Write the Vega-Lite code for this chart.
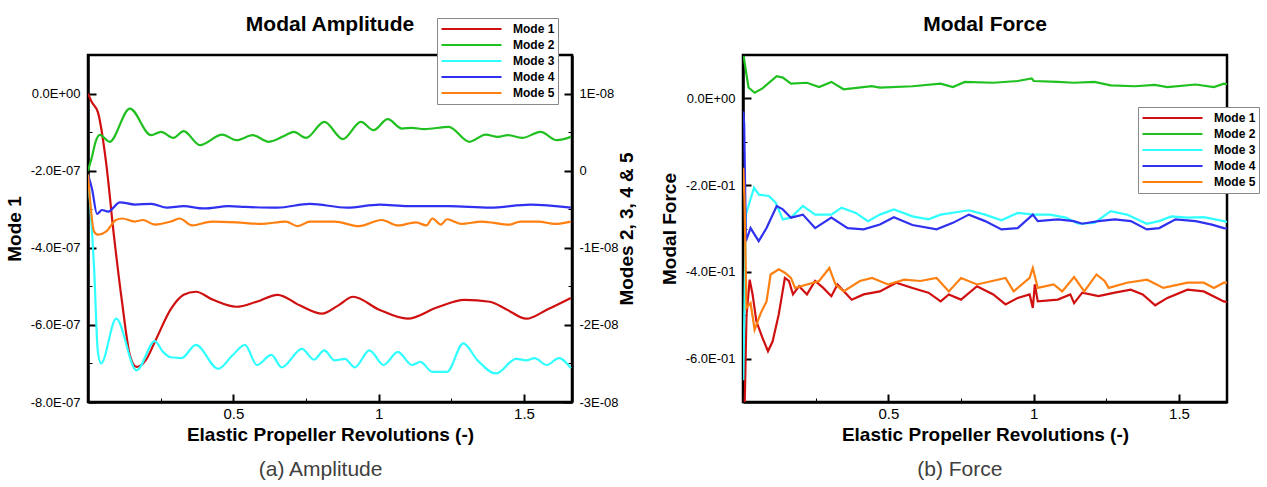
{
  "$schema": "https://vega.github.io/schema/vega-lite/v6.json",
  "background": "white",
  "padding": {"left": 3, "top": 12, "right": 5, "bottom": 5},
  "config": {
    "font": "Liberation Sans",
    "view": {"stroke": "black", "strokeWidth": 2.5},
    "axis": {"grid": false, "domainColor": "black", "domainWidth": 2.5, "tickColor": "black", "labelColor": "black", "labelFont": "Liberation Sans", "labelFontSize": 13, "titleFont": "Liberation Sans", "titleFontWeight": "bold", "titleFontSize": 19, "titleColor": "black", "tickSize": -8, "labelOverlap": false, "labelBound": false, "labelFlush": false},
    "legend": {"orient": "none", "title": null, "symbolType": "stroke", "symbolSize": 3600, "symbolStrokeWidth": 2, "labelFont": "Liberation Sans", "labelFontWeight": "bold", "labelFontSize": 12, "labelColor": "black", "clipHeight": 16, "rowPadding": 0, "padding": 3, "strokeColor": "#888888", "fillColor": "white", "labelOffset": 10},
    "title": {"font": "Liberation Sans", "color": "black"},
    "line": {"strokeWidth": 2.2}
  },
  "datasets": {
    "amp": [
      {"rev":0,"value":0,"mode":"Mode 1"},{"rev":0.013,"value":-0.22e-7,"mode":"Mode 1"},{"rev":0.034,"value":-0.48e-7,"mode":"Mode 1"},{"rev":0.062,"value":-1.77e-7,"mode":"Mode 1"},{"rev":0.089,"value":-3.67e-7,"mode":"Mode 1"},{"rev":0.117,"value":-5.40e-7,"mode":"Mode 1"},{"rev":0.144,"value":-6.78e-7,"mode":"Mode 1"},{"rev":0.167,"value":-7.09e-7,"mode":"Mode 1"},{"rev":0.20,"value":-6.9e-7,"mode":"Mode 1"},{"rev":0.23,"value":-6.44e-7,"mode":"Mode 1"},{"rev":0.286,"value":-5.58e-7,"mode":"Mode 1"},{"rev":0.329,"value":-5.22e-7,"mode":"Mode 1"},{"rev":0.371,"value":-5.14e-7,"mode":"Mode 1"},{"rev":0.43,"value":-5.35e-7,"mode":"Mode 1"},{"rev":0.511,"value":-5.53e-7,"mode":"Mode 1"},{"rev":0.58,"value":-5.4e-7,"mode":"Mode 1"},{"rev":0.652,"value":-5.22e-7,"mode":"Mode 1"},{"rev":0.73,"value":-5.5e-7,"mode":"Mode 1"},{"rev":0.805,"value":-5.71e-7,"mode":"Mode 1"},{"rev":0.86,"value":-5.5e-7,"mode":"Mode 1"},{"rev":0.912,"value":-5.27e-7,"mode":"Mode 1"},{"rev":1.0,"value":-5.6e-7,"mode":"Mode 1"},{"rev":1.10,"value":-5.84e-7,"mode":"Mode 1"},{"rev":1.2,"value":-5.55e-7,"mode":"Mode 1"},{"rev":1.296,"value":-5.35e-7,"mode":"Mode 1"},{"rev":1.382,"value":-5.40e-7,"mode":"Mode 1"},{"rev":1.44,"value":-5.6e-7,"mode":"Mode 1"},{"rev":1.508,"value":-5.84e-7,"mode":"Mode 1"},{"rev":1.58,"value":-5.6e-7,"mode":"Mode 1"},{"rev":1.661,"value":-5.30e-7,"mode":"Mode 1"},

      {"rev":0,"value":0,"mode":"Mode 2"},{"rev":0.015,"value":2.0e-9,"mode":"Mode 2"},{"rev":0.025,"value":3.6e-9,"mode":"Mode 2"},{"rev":0.041,"value":4.64e-9,"mode":"Mode 2"},{"rev":0.074,"value":3.74e-9,"mode":"Mode 2"},{"rev":0.144,"value":8.05e-9,"mode":"Mode 2"},{"rev":0.217,"value":4.60e-9,"mode":"Mode 2"},{"rev":0.251,"value":5.03e-9,"mode":"Mode 2"},{"rev":0.294,"value":4.25e-9,"mode":"Mode 2"},{"rev":0.329,"value":5.12e-9,"mode":"Mode 2"},{"rev":0.385,"value":3.31e-9,"mode":"Mode 2"},{"rev":0.462,"value":4.68e-9,"mode":"Mode 2"},{"rev":0.511,"value":3.96e-9,"mode":"Mode 2"},{"rev":0.567,"value":4.60e-9,"mode":"Mode 2"},{"rev":0.622,"value":3.74e-9,"mode":"Mode 2"},{"rev":0.680,"value":4.60e-9,"mode":"Mode 2"},{"rev":0.708,"value":5.03e-9,"mode":"Mode 2"},{"rev":0.750,"value":4.25e-9,"mode":"Mode 2"},{"rev":0.813,"value":6.33e-9,"mode":"Mode 2"},{"rev":0.877,"value":4.09e-9,"mode":"Mode 2"},{"rev":0.939,"value":6.33e-9,"mode":"Mode 2"},{"rev":0.982,"value":5.25e-9,"mode":"Mode 2"},{"rev":1.031,"value":6.68e-9,"mode":"Mode 2"},{"rev":1.080,"value":5.46e-9,"mode":"Mode 2"},{"rev":1.114,"value":5.55e-9,"mode":"Mode 2"},{"rev":1.157,"value":5.38e-9,"mode":"Mode 2"},{"rev":1.241,"value":5.68e-9,"mode":"Mode 2"},{"rev":1.312,"value":3.74e-9,"mode":"Mode 2"},{"rev":1.368,"value":4.68e-9,"mode":"Mode 2"},{"rev":1.410,"value":4.38e-9,"mode":"Mode 2"},{"rev":1.444,"value":4.60e-9,"mode":"Mode 2"},{"rev":1.494,"value":4.25e-9,"mode":"Mode 2"},{"rev":1.557,"value":5.03e-9,"mode":"Mode 2"},{"rev":1.613,"value":3.96e-9,"mode":"Mode 2"},{"rev":1.661,"value":4.38e-9,"mode":"Mode 2"},

      {"rev":0,"value":-0.05e-8,"mode":"Mode 3"},{"rev":0.021,"value":-1.27e-8,"mode":"Mode 3"},{"rev":0.034,"value":-2.35e-8,"mode":"Mode 3"},{"rev":0.045,"value":-2.50e-8,"mode":"Mode 3"},{"rev":0.097,"value":-1.92e-8,"mode":"Mode 3"},{"rev":0.167,"value":-2.59e-8,"mode":"Mode 3"},{"rev":0.230,"value":-2.21e-8,"mode":"Mode 3"},{"rev":0.258,"value":-2.35e-8,"mode":"Mode 3"},{"rev":0.285,"value":-2.42e-8,"mode":"Mode 3"},{"rev":0.322,"value":-2.43e-8,"mode":"Mode 3"},{"rev":0.371,"value":-2.26e-8,"mode":"Mode 3"},{"rev":0.448,"value":-2.57e-8,"mode":"Mode 3"},{"rev":0.498,"value":-2.39e-8,"mode":"Mode 3"},{"rev":0.540,"value":-2.26e-8,"mode":"Mode 3"},{"rev":0.581,"value":-2.52e-8,"mode":"Mode 3"},{"rev":0.631,"value":-2.39e-8,"mode":"Mode 3"},{"rev":0.666,"value":-2.55e-8,"mode":"Mode 3"},{"rev":0.736,"value":-2.31e-8,"mode":"Mode 3"},{"rev":0.777,"value":-2.45e-8,"mode":"Mode 3"},{"rev":0.813,"value":-2.33e-8,"mode":"Mode 3"},{"rev":0.848,"value":-2.46e-8,"mode":"Mode 3"},{"rev":0.884,"value":-2.44e-8,"mode":"Mode 3"},{"rev":0.918,"value":-2.55e-8,"mode":"Mode 3"},{"rev":0.968,"value":-2.33e-8,"mode":"Mode 3"},{"rev":1.017,"value":-2.52e-8,"mode":"Mode 3"},{"rev":1.066,"value":-2.35e-8,"mode":"Mode 3"},{"rev":1.114,"value":-2.52e-8,"mode":"Mode 3"},{"rev":1.143,"value":-2.48e-8,"mode":"Mode 3"},{"rev":1.185,"value":-2.61e-8,"mode":"Mode 3"},{"rev":1.235,"value":-2.61e-8,"mode":"Mode 3"},{"rev":1.291,"value":-2.24e-8,"mode":"Mode 3"},{"rev":1.340,"value":-2.46e-8,"mode":"Mode 3"},{"rev":1.403,"value":-2.63e-8,"mode":"Mode 3"},{"rev":1.473,"value":-2.44e-8,"mode":"Mode 3"},{"rev":1.508,"value":-2.46e-8,"mode":"Mode 3"},{"rev":1.536,"value":-2.43e-8,"mode":"Mode 3"},{"rev":1.578,"value":-2.52e-8,"mode":"Mode 3"},{"rev":1.620,"value":-2.43e-8,"mode":"Mode 3"},{"rev":1.661,"value":-2.56e-8,"mode":"Mode 3"},

      {"rev":0,"value":-0.05e-8,"mode":"Mode 4"},{"rev":0.014,"value":-0.24e-8,"mode":"Mode 4"},{"rev":0.031,"value":-0.56e-8,"mode":"Mode 4"},{"rev":0.048,"value":-0.51e-8,"mode":"Mode 4"},{"rev":0.069,"value":-0.53e-8,"mode":"Mode 4"},{"rev":0.110,"value":-0.41e-8,"mode":"Mode 4"},{"rev":0.162,"value":-0.44e-8,"mode":"Mode 4"},{"rev":0.217,"value":-0.43e-8,"mode":"Mode 4"},{"rev":0.272,"value":-0.48e-8,"mode":"Mode 4"},{"rev":0.329,"value":-0.46e-8,"mode":"Mode 4"},{"rev":0.399,"value":-0.49e-8,"mode":"Mode 4"},{"rev":0.484,"value":-0.46e-8,"mode":"Mode 4"},{"rev":0.540,"value":-0.47e-8,"mode":"Mode 4"},{"rev":0.652,"value":-0.48e-8,"mode":"Mode 4"},{"rev":0.763,"value":-0.43e-8,"mode":"Mode 4"},{"rev":0.891,"value":-0.48e-8,"mode":"Mode 4"},{"rev":1.003,"value":-0.44e-8,"mode":"Mode 4"},{"rev":1.100,"value":-0.46e-8,"mode":"Mode 4"},{"rev":1.241,"value":-0.46e-8,"mode":"Mode 4"},{"rev":1.382,"value":-0.48e-8,"mode":"Mode 4"},{"rev":1.522,"value":-0.44e-8,"mode":"Mode 4"},{"rev":1.661,"value":-0.48e-8,"mode":"Mode 4"},

      {"rev":0,"value":-0.05e-8,"mode":"Mode 5"},{"rev":0.021,"value":-0.79e-8,"mode":"Mode 5"},{"rev":0.034,"value":-0.83e-8,"mode":"Mode 5"},{"rev":0.062,"value":-0.79e-8,"mode":"Mode 5"},{"rev":0.096,"value":-0.64e-8,"mode":"Mode 5"},{"rev":0.118,"value":-0.62e-8,"mode":"Mode 5"},{"rev":0.161,"value":-0.66e-8,"mode":"Mode 5"},{"rev":0.189,"value":-0.64e-8,"mode":"Mode 5"},{"rev":0.230,"value":-0.70e-8,"mode":"Mode 5"},{"rev":0.285,"value":-0.66e-8,"mode":"Mode 5"},{"rev":0.315,"value":-0.62e-8,"mode":"Mode 5"},{"rev":0.358,"value":-0.71e-8,"mode":"Mode 5"},{"rev":0.426,"value":-0.66e-8,"mode":"Mode 5"},{"rev":0.511,"value":-0.67e-8,"mode":"Mode 5"},{"rev":0.595,"value":-0.69e-8,"mode":"Mode 5"},{"rev":0.680,"value":-0.66e-8,"mode":"Mode 5"},{"rev":0.722,"value":-0.72e-8,"mode":"Mode 5"},{"rev":0.763,"value":-0.66e-8,"mode":"Mode 5"},{"rev":0.848,"value":-0.66e-8,"mode":"Mode 5"},{"rev":0.932,"value":-0.72e-8,"mode":"Mode 5"},{"rev":1.010,"value":-0.64e-8,"mode":"Mode 5"},{"rev":1.066,"value":-0.71e-8,"mode":"Mode 5"},{"rev":1.128,"value":-0.67e-8,"mode":"Mode 5"},{"rev":1.164,"value":-0.71e-8,"mode":"Mode 5"},{"rev":1.185,"value":-0.62e-8,"mode":"Mode 5"},{"rev":1.214,"value":-0.70e-8,"mode":"Mode 5"},{"rev":1.235,"value":-0.63e-8,"mode":"Mode 5"},{"rev":1.283,"value":-0.69e-8,"mode":"Mode 5"},{"rev":1.354,"value":-0.66e-8,"mode":"Mode 5"},{"rev":1.451,"value":-0.70e-8,"mode":"Mode 5"},{"rev":1.487,"value":-0.66e-8,"mode":"Mode 5"},{"rev":1.550,"value":-0.66e-8,"mode":"Mode 5"},{"rev":1.606,"value":-0.69e-8,"mode":"Mode 5"},{"rev":1.661,"value":-0.66e-8,"mode":"Mode 5"}
    ],
    "force": [
      {"rev":0.001,"value":-0.76,"mode":"Mode 1"},{"rev":0.006,"value":-0.70,"mode":"Mode 1"},{"rev":0.012,"value":-0.50,"mode":"Mode 1"},{"rev":0.023,"value":-0.418,"mode":"Mode 1"},{"rev":0.033,"value":-0.452,"mode":"Mode 1"},{"rev":0.046,"value":-0.514,"mode":"Mode 1"},{"rev":0.067,"value":-0.552,"mode":"Mode 1"},{"rev":0.086,"value":-0.583,"mode":"Mode 1"},{"rev":0.102,"value":-0.560,"mode":"Mode 1"},{"rev":0.123,"value":-0.498,"mode":"Mode 1"},{"rev":0.144,"value":-0.414,"mode":"Mode 1"},{"rev":0.158,"value":-0.421,"mode":"Mode 1"},{"rev":0.172,"value":-0.452,"mode":"Mode 1"},{"rev":0.193,"value":-0.433,"mode":"Mode 1"},{"rev":0.220,"value":-0.452,"mode":"Mode 1"},{"rev":0.248,"value":-0.421,"mode":"Mode 1"},{"rev":0.276,"value":-0.437,"mode":"Mode 1"},{"rev":0.304,"value":-0.456,"mode":"Mode 1"},{"rev":0.325,"value":-0.429,"mode":"Mode 1"},{"rev":0.374,"value":-0.464,"mode":"Mode 1"},{"rev":0.415,"value":-0.452,"mode":"Mode 1"},{"rev":0.471,"value":-0.445,"mode":"Mode 1"},{"rev":0.527,"value":-0.425,"mode":"Mode 1"},{"rev":0.583,"value":-0.437,"mode":"Mode 1"},{"rev":0.638,"value":-0.448,"mode":"Mode 1"},{"rev":0.680,"value":-0.468,"mode":"Mode 1"},{"rev":0.708,"value":-0.452,"mode":"Mode 1"},{"rev":0.750,"value":-0.464,"mode":"Mode 1"},{"rev":0.805,"value":-0.433,"mode":"Mode 1"},{"rev":0.861,"value":-0.452,"mode":"Mode 1"},{"rev":0.903,"value":-0.475,"mode":"Mode 1"},{"rev":0.945,"value":-0.460,"mode":"Mode 1"},{"rev":0.986,"value":-0.452,"mode":"Mode 1"},{"rev":0.997,"value":-0.483,"mode":"Mode 1"},{"rev":1.004,"value":-0.429,"mode":"Mode 1"},{"rev":1.014,"value":-0.468,"mode":"Mode 1"},{"rev":1.083,"value":-0.464,"mode":"Mode 1"},{"rev":1.126,"value":-0.452,"mode":"Mode 1"},{"rev":1.139,"value":-0.472,"mode":"Mode 1"},{"rev":1.167,"value":-0.448,"mode":"Mode 1"},{"rev":1.223,"value":-0.456,"mode":"Mode 1"},{"rev":1.279,"value":-0.448,"mode":"Mode 1"},{"rev":1.334,"value":-0.441,"mode":"Mode 1"},{"rev":1.375,"value":-0.452,"mode":"Mode 1"},{"rev":1.418,"value":-0.477,"mode":"Mode 1"},{"rev":1.460,"value":-0.460,"mode":"Mode 1"},{"rev":1.529,"value":-0.441,"mode":"Mode 1"},{"rev":1.585,"value":-0.445,"mode":"Mode 1"},{"rev":1.654,"value":-0.468,"mode":"Mode 1"},{"rev":1.665,"value":-0.470,"mode":"Mode 1"},

      {"rev":0.002,"value":0.098,"mode":"Mode 2"},{"rev":0.019,"value":0.025,"mode":"Mode 2"},{"rev":0.040,"value":0.013,"mode":"Mode 2"},{"rev":0.067,"value":0.023,"mode":"Mode 2"},{"rev":0.116,"value":0.051,"mode":"Mode 2"},{"rev":0.137,"value":0.048,"mode":"Mode 2"},{"rev":0.165,"value":0.034,"mode":"Mode 2"},{"rev":0.220,"value":0.036,"mode":"Mode 2"},{"rev":0.262,"value":0.026,"mode":"Mode 2"},{"rev":0.304,"value":0.038,"mode":"Mode 2"},{"rev":0.346,"value":0.021,"mode":"Mode 2"},{"rev":0.443,"value":0.028,"mode":"Mode 2"},{"rev":0.471,"value":0.025,"mode":"Mode 2"},{"rev":0.583,"value":0.028,"mode":"Mode 2"},{"rev":0.680,"value":0.034,"mode":"Mode 2"},{"rev":0.722,"value":0.026,"mode":"Mode 2"},{"rev":0.763,"value":0.038,"mode":"Mode 2"},{"rev":0.861,"value":0.036,"mode":"Mode 2"},{"rev":0.945,"value":0.040,"mode":"Mode 2"},{"rev":0.993,"value":0.046,"mode":"Mode 2"},{"rev":1.000,"value":0.040,"mode":"Mode 2"},{"rev":1.083,"value":0.038,"mode":"Mode 2"},{"rev":1.138,"value":0.036,"mode":"Mode 2"},{"rev":1.209,"value":0.038,"mode":"Mode 2"},{"rev":1.265,"value":0.030,"mode":"Mode 2"},{"rev":1.348,"value":0.028,"mode":"Mode 2"},{"rev":1.417,"value":0.031,"mode":"Mode 2"},{"rev":1.460,"value":0.026,"mode":"Mode 2"},{"rev":1.557,"value":0.032,"mode":"Mode 2"},{"rev":1.620,"value":0.026,"mode":"Mode 2"},{"rev":1.654,"value":0.034,"mode":"Mode 2"},{"rev":1.665,"value":0.033,"mode":"Mode 2"},

      {"rev":0.001,"value":-0.65,"mode":"Mode 3"},{"rev":0.010,"value":-0.267,"mode":"Mode 3"},{"rev":0.038,"value":-0.206,"mode":"Mode 3"},{"rev":0.055,"value":-0.222,"mode":"Mode 3"},{"rev":0.089,"value":-0.225,"mode":"Mode 3"},{"rev":0.112,"value":-0.240,"mode":"Mode 3"},{"rev":0.137,"value":-0.279,"mode":"Mode 3"},{"rev":0.165,"value":-0.275,"mode":"Mode 3"},{"rev":0.206,"value":-0.248,"mode":"Mode 3"},{"rev":0.248,"value":-0.268,"mode":"Mode 3"},{"rev":0.304,"value":-0.268,"mode":"Mode 3"},{"rev":0.339,"value":-0.252,"mode":"Mode 3"},{"rev":0.388,"value":-0.264,"mode":"Mode 3"},{"rev":0.430,"value":-0.283,"mode":"Mode 3"},{"rev":0.471,"value":-0.268,"mode":"Mode 3"},{"rev":0.519,"value":-0.256,"mode":"Mode 3"},{"rev":0.583,"value":-0.272,"mode":"Mode 3"},{"rev":0.638,"value":-0.279,"mode":"Mode 3"},{"rev":0.680,"value":-0.268,"mode":"Mode 3"},{"rev":0.777,"value":-0.258,"mode":"Mode 3"},{"rev":0.833,"value":-0.268,"mode":"Mode 3"},{"rev":0.889,"value":-0.281,"mode":"Mode 3"},{"rev":0.945,"value":-0.264,"mode":"Mode 3"},{"rev":1.000,"value":-0.268,"mode":"Mode 3"},{"rev":1.056,"value":-0.268,"mode":"Mode 3"},{"rev":1.111,"value":-0.275,"mode":"Mode 3"},{"rev":1.153,"value":-0.289,"mode":"Mode 3"},{"rev":1.209,"value":-0.287,"mode":"Mode 3"},{"rev":1.265,"value":-0.260,"mode":"Mode 3"},{"rev":1.321,"value":-0.268,"mode":"Mode 3"},{"rev":1.389,"value":-0.289,"mode":"Mode 3"},{"rev":1.431,"value":-0.283,"mode":"Mode 3"},{"rev":1.474,"value":-0.272,"mode":"Mode 3"},{"rev":1.529,"value":-0.275,"mode":"Mode 3"},{"rev":1.585,"value":-0.274,"mode":"Mode 3"},{"rev":1.654,"value":-0.283,"mode":"Mode 3"},{"rev":1.665,"value":-0.285,"mode":"Mode 3"},

      {"rev":0.001,"value":-0.03,"mode":"Mode 4"},{"rev":0.004,"value":-0.06,"mode":"Mode 4"},{"rev":0.010,"value":-0.329,"mode":"Mode 4"},{"rev":0.026,"value":-0.299,"mode":"Mode 4"},{"rev":0.054,"value":-0.329,"mode":"Mode 4"},{"rev":0.081,"value":-0.299,"mode":"Mode 4"},{"rev":0.116,"value":-0.248,"mode":"Mode 4"},{"rev":0.137,"value":-0.256,"mode":"Mode 4"},{"rev":0.165,"value":-0.275,"mode":"Mode 4"},{"rev":0.206,"value":-0.268,"mode":"Mode 4"},{"rev":0.248,"value":-0.299,"mode":"Mode 4"},{"rev":0.304,"value":-0.275,"mode":"Mode 4"},{"rev":0.360,"value":-0.299,"mode":"Mode 4"},{"rev":0.415,"value":-0.302,"mode":"Mode 4"},{"rev":0.471,"value":-0.291,"mode":"Mode 4"},{"rev":0.519,"value":-0.274,"mode":"Mode 4"},{"rev":0.583,"value":-0.292,"mode":"Mode 4"},{"rev":0.666,"value":-0.302,"mode":"Mode 4"},{"rev":0.722,"value":-0.287,"mode":"Mode 4"},{"rev":0.777,"value":-0.268,"mode":"Mode 4"},{"rev":0.833,"value":-0.283,"mode":"Mode 4"},{"rev":0.889,"value":-0.302,"mode":"Mode 4"},{"rev":0.945,"value":-0.299,"mode":"Mode 4"},{"rev":0.997,"value":-0.268,"mode":"Mode 4"},{"rev":1.014,"value":-0.283,"mode":"Mode 4"},{"rev":1.083,"value":-0.279,"mode":"Mode 4"},{"rev":1.138,"value":-0.283,"mode":"Mode 4"},{"rev":1.167,"value":-0.289,"mode":"Mode 4"},{"rev":1.223,"value":-0.283,"mode":"Mode 4"},{"rev":1.279,"value":-0.279,"mode":"Mode 4"},{"rev":1.334,"value":-0.283,"mode":"Mode 4"},{"rev":1.389,"value":-0.302,"mode":"Mode 4"},{"rev":1.432,"value":-0.299,"mode":"Mode 4"},{"rev":1.488,"value":-0.279,"mode":"Mode 4"},{"rev":1.557,"value":-0.283,"mode":"Mode 4"},{"rev":1.613,"value":-0.291,"mode":"Mode 4"},{"rev":1.654,"value":-0.299,"mode":"Mode 4"},{"rev":1.665,"value":-0.300,"mode":"Mode 4"},

      {"rev":0.001,"value":-0.16,"mode":"Mode 5"},{"rev":0.005,"value":-0.229,"mode":"Mode 5"},{"rev":0.012,"value":-0.483,"mode":"Mode 5"},{"rev":0.026,"value":-0.472,"mode":"Mode 5"},{"rev":0.040,"value":-0.533,"mode":"Mode 5"},{"rev":0.061,"value":-0.495,"mode":"Mode 5"},{"rev":0.081,"value":-0.468,"mode":"Mode 5"},{"rev":0.095,"value":-0.406,"mode":"Mode 5"},{"rev":0.123,"value":-0.394,"mode":"Mode 5"},{"rev":0.144,"value":-0.402,"mode":"Mode 5"},{"rev":0.165,"value":-0.414,"mode":"Mode 5"},{"rev":0.179,"value":-0.437,"mode":"Mode 5"},{"rev":0.220,"value":-0.429,"mode":"Mode 5"},{"rev":0.262,"value":-0.421,"mode":"Mode 5"},{"rev":0.297,"value":-0.391,"mode":"Mode 5"},{"rev":0.318,"value":-0.429,"mode":"Mode 5"},{"rev":0.346,"value":-0.445,"mode":"Mode 5"},{"rev":0.402,"value":-0.421,"mode":"Mode 5"},{"rev":0.444,"value":-0.414,"mode":"Mode 5"},{"rev":0.499,"value":-0.429,"mode":"Mode 5"},{"rev":0.555,"value":-0.418,"mode":"Mode 5"},{"rev":0.610,"value":-0.421,"mode":"Mode 5"},{"rev":0.666,"value":-0.414,"mode":"Mode 5"},{"rev":0.708,"value":-0.445,"mode":"Mode 5"},{"rev":0.750,"value":-0.414,"mode":"Mode 5"},{"rev":0.805,"value":-0.429,"mode":"Mode 5"},{"rev":0.903,"value":-0.414,"mode":"Mode 5"},{"rev":0.931,"value":-0.445,"mode":"Mode 5"},{"rev":0.986,"value":-0.414,"mode":"Mode 5"},{"rev":0.997,"value":-0.391,"mode":"Mode 5"},{"rev":1.014,"value":-0.437,"mode":"Mode 5"},{"rev":1.069,"value":-0.429,"mode":"Mode 5"},{"rev":1.098,"value":-0.445,"mode":"Mode 5"},{"rev":1.139,"value":-0.412,"mode":"Mode 5"},{"rev":1.174,"value":-0.445,"mode":"Mode 5"},{"rev":1.216,"value":-0.406,"mode":"Mode 5"},{"rev":1.244,"value":-0.421,"mode":"Mode 5"},{"rev":1.258,"value":-0.437,"mode":"Mode 5"},{"rev":1.321,"value":-0.425,"mode":"Mode 5"},{"rev":1.390,"value":-0.418,"mode":"Mode 5"},{"rev":1.446,"value":-0.437,"mode":"Mode 5"},{"rev":1.529,"value":-0.425,"mode":"Mode 5"},{"rev":1.585,"value":-0.425,"mode":"Mode 5"},{"rev":1.620,"value":-0.437,"mode":"Mode 5"},{"rev":1.654,"value":-0.425,"mode":"Mode 5"},{"rev":1.665,"value":-0.425,"mode":"Mode 5"}
    ]
  },
  "hconcat": [
    {
      "title": {"text": "(a) Amplitude", "orient": "bottom", "fontSize": 21, "fontWeight": "normal", "color": "#404040", "offset": 14, "anchor": "middle"},
      "resolve": {"scale": {"color": "independent"}, "legend": {"color": "independent"}},
      "vconcat": [
        {
          "title": {"text": "Modal Amplitude", "fontSize": 21, "fontWeight": "bold", "anchor": "middle", "frame": "group", "offset": -17},
          "width": 484,
          "height": 347,
          "data": {"name": "amp"},
          "layer": [
            {
              "transform": [{"filter": "datum.mode == 'Mode 1'"}],
              "mark": {"type": "line", "interpolate": "monotone", "clip": true},
              "encoding": {
                "x": {"field": "rev", "type": "quantitative", "title": "Elastic Propeller Revolutions (-)",
                  "scale": {"domain": [0, 1.665], "nice": false, "zero": false},
                  "axis": {"values": [0.25, 0.5, 0.75, 1, 1.25, 1.5], "labelExpr": "datum.value % 0.5 != 0 ? '' : '' + datum.value", "labelFontSize": 15, "labelPadding": 12, "titlePadding": 4, "tickDash": {"condition": {"test": "datum.value % 0.5 != 0", "value": [4, 20]}, "value": [20, 0]}, "tickWidth": {"condition": {"test": "datum.value % 0.5 != 0", "value": 1}, "value": 2}}},
                "y": {"field": "value", "type": "quantitative", "title": "Mode 1",
                  "scale": {"domain": [-8e-7, 1e-7], "nice": false, "zero": false},
                  "axis": {"orient": "left", "values": [-8e-7, -7e-7, -6e-7, -5e-7, -4e-7, -3e-7, -2e-7, -1e-7, 0], "labelExpr": "abs(round(datum.value*1e7)) % 2 == 1 ? '' : (datum.value == 0 ? '0.0E+00' : '-' + format(abs(datum.value)*1e7, '.1f') + 'E-07')", "labelPadding": 16, "titlePadding": 6, "tickDash": {"condition": {"test": "abs(round(datum.value*1e7)) % 2 == 1", "value": [4, 20]}, "value": [20, 0]}, "tickWidth": {"condition": {"test": "abs(round(datum.value*1e7)) % 2 == 1", "value": 1}, "value": 2}}},
                "color": {"field": "mode", "type": "nominal",
                  "scale": {"domain": ["Mode 1", "Mode 2", "Mode 3", "Mode 4", "Mode 5"], "range": ["#d01010", "#20c020", "#30ffff", "#3030f0", "#ff8010"]},
                  "legend": {"legendX": 349, "legendY": -37}}
              }
            },
            {
              "transform": [{"filter": "datum.mode != 'Mode 1'"}],
              "mark": {"type": "line", "interpolate": "monotone", "clip": true},
              "encoding": {
                "x": {"field": "rev", "type": "quantitative", "scale": {"domain": [0, 1.665], "nice": false, "zero": false}},
                "y": {"field": "value", "type": "quantitative", "title": "Modes 2, 3, 4 & 5",
                  "scale": {"domain": [-3e-8, 1.5e-8], "nice": false, "zero": false},
                  "axis": {"orient": "right", "values": [-3e-8, -2.5e-8, -2e-8, -1.5e-8, -1e-8, -5e-9, 0, 5e-9, 1e-8], "labelExpr": "datum.value == 0 ? '0' : (abs(round(datum.value*2e8)) % 2 == 1 ? '' : (datum.value < 0 ? '-' : '') + format(abs(datum.value)*1e8, '.0f') + 'E-08')", "labelPadding": 15, "titlePadding": 18, "titleAngle": -90, "tickDash": {"condition": {"test": "abs(round(datum.value*2e8)) % 2 == 1", "value": [4, 20]}, "value": [20, 0]}, "tickWidth": {"condition": {"test": "abs(round(datum.value*2e8)) % 2 == 1", "value": 1}, "value": 2}}},
                "color": {"field": "mode", "type": "nominal",
                  "scale": {"domain": ["Mode 1", "Mode 2", "Mode 3", "Mode 4", "Mode 5"], "range": ["#d01010", "#20c020", "#30ffff", "#3030f0", "#ff8010"]},
                  "legend": {"legendX": 349, "legendY": -37}}
              }
            }
          ],
          "resolve": {"scale": {"y": "independent"}}
        }
      ]
    },
    {
      "title": {"text": "(b) Force", "orient": "bottom", "fontSize": 21, "fontWeight": "normal", "color": "#404040", "offset": 14, "anchor": "middle"},
      "resolve": {"scale": {"color": "independent"}, "legend": {"color": "independent"}},
      "vconcat": [
        {
          "title": {"text": "Modal Force", "fontSize": 21, "fontWeight": "bold", "anchor": "middle", "frame": "group", "offset": 20},
          "width": 484,
          "height": 347,
          "data": {"name": "force"},
          "mark": {"type": "line", "clip": true},
          "encoding": {
            "x": {"field": "rev", "type": "quantitative", "title": "Elastic Propeller Revolutions (-)",
              "scale": {"domain": [0, 1.665], "nice": false, "zero": false},
              "axis": {"values": [0.25, 0.5, 0.75, 1, 1.25, 1.5], "labelExpr": "datum.value % 0.5 != 0 ? '' : '' + datum.value", "labelFontSize": 15, "labelPadding": 12, "titlePadding": 4, "tickDash": {"condition": {"test": "datum.value % 0.5 != 0", "value": [4, 20]}, "value": [20, 0]}, "tickWidth": {"condition": {"test": "datum.value % 0.5 != 0", "value": 1}, "value": 2}}},
            "y": {"field": "value", "type": "quantitative", "title": "Modal Force",
              "scale": {"domain": [-0.7, 0.1], "nice": false, "zero": false},
              "axis": {"values": [-0.6, -0.5, -0.4, -0.3, -0.2, -0.1, 0], "labelExpr": "abs(round(datum.value*10)) % 2 == 1 ? '' : (datum.value == 0 ? '0.0E+00' : '-' + format(abs(datum.value)*10, '.1f') + 'E-01')", "labelPadding": 16, "titlePadding": 6, "tickDash": {"condition": {"test": "abs(round(datum.value*10)) % 2 == 1", "value": [4, 20]}, "value": [20, 0]}, "tickWidth": {"condition": {"test": "abs(round(datum.value*10)) % 2 == 1", "value": 1}, "value": 2}}},
            "color": {"field": "mode", "type": "nominal",
              "scale": {"domain": ["Mode 1", "Mode 2", "Mode 3", "Mode 4", "Mode 5"], "range": ["#d01010", "#20c020", "#30ffff", "#3030f0", "#ff8010"]},
              "legend": {"legendX": 395, "legendY": 52}}
          }
        }
      ]
    }
  ],
  "spacing": 20,
  "resolve": {"scale": {"color": "independent"}, "legend": {"color": "independent"}}
}
